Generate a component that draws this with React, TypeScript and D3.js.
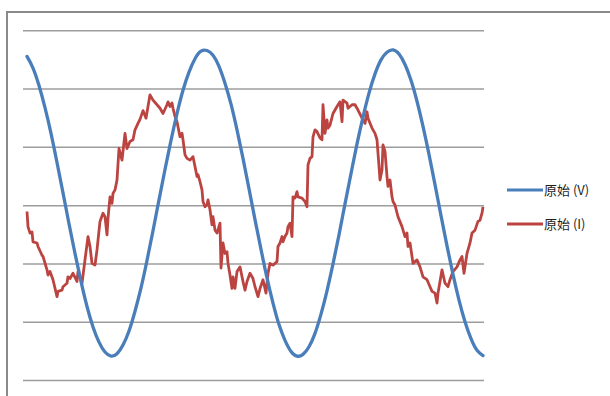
import React from "react";
import * as d3 from "d3";

// sample index (x) and value pairs
const voltageSamples = [
  0, 6, 12, 18, 24, 30, 36, 42, 48, 54, 60, 66, 72, 78, 84, 90, 96, 102, 108,
  114, 120, 126, 132, 138, 144, 150, 156, 162, 168, 174, 180, 186, 192, 198,
  204, 210, 216, 222, 228, 234, 240, 246, 252, 258, 264, 270, 276, 282, 288,
  294, 300, 306, 312, 318, 324, 330, 336, 342, 348, 354, 360, 366, 372, 378,
  384, 390, 396, 402, 408, 414, 420, 426, 432, 438, 444, 450, 456,
];
const voltageValues = [
  256, 236, 206, 168, 124, 74, 22, -31, -82, -130, -173, -208, -234, -251,
  -258, -254, -239, -215, -181, -141, -94, -43, 10, 62, 112, 158, 198, 229,
  252, 265, 266, 258, 239, 210, 174, 130, 81, 29, -24, -75, -124, -167, -204,
  -231, -250, -258, -255, -242, -219, -186, -146, -100, -50, 3, 55, 106, 152,
  193, 226, 250, 263, 267, 260, 242, 215, 179, 136, 88, 36, -17, -69, -118,
  -162, -199, -228, -248, -257,
];

const currentSamples = [
  0, 1, 3, 5, 6, 10, 11, 15, 16, 20, 21, 23, 26, 30, 31, 35, 36, 40, 41, 43,
  46, 50, 51, 55, 58, 61, 63, 65, 68, 70, 73, 76, 78, 80, 81, 83, 85, 86, 88,
  90, 92, 95, 98, 100, 103, 106, 108, 111, 113, 116, 119, 123, 126, 130, 133,
  136, 140, 141, 143, 145, 146, 148, 150, 153, 155, 156, 158, 160, 163, 166,
  168, 170, 171, 173, 175, 176, 178, 180, 181, 183, 185, 186, 188, 190, 193,
  194, 196, 198, 200, 201, 203, 205, 206, 208, 210, 213, 216, 218, 220, 223,
  226, 228, 231, 233, 236, 239, 241, 243, 246, 250, 251, 253, 255, 256, 258,
  260, 261, 263, 265, 266, 268, 270, 271, 275, 278, 280, 281, 283, 285, 286,
  288, 290, 293, 295, 296, 298, 300, 301, 303, 306, 310, 313, 315, 316, 320,
  321, 325, 328, 331, 335, 338, 340, 341, 345, 348, 350, 351, 353, 355, 356,
  358, 360, 361, 363, 365, 366, 368, 371, 375, 378, 380, 381, 383, 385, 386,
  390, 393, 396, 400, 403, 405, 408, 410, 411, 415, 418, 421, 423, 426, 430,
  433, 435, 437, 440, 443, 445, 448, 451, 453, 455, 456,
];
const currentValues = [
  -10, -36, -47, -45, -62, -64, -70, -85, -87, -110, -119, -113, -127, -156,
  -147, -145, -139, -133, -122, -125, -116, -130, -113, -133, -93, -53, -70,
  -99, -102, -76, -27, -13, -19, -50, -22, 15, 4, 21, 27, 44, 98, 78, 124, 98,
  110, 113, 130, 141, 148, 163, 150, 190, 181, 173, 167, 158, 173, 178, 170,
  176, 167, 153, 144, 118, 124, 113, 87, 81, 78, 84, 67, 50, 53, 41, 27, 7,
  -2, 1, 10, -7, -33, -19, -42, -47, -30, -107, -64, -82, -79, -99, -119,
  -142, -122, -142, -113, -105, -130, -145, -130, -116, -125, -139, -156,
  -142, -127, -150, -116, -99, -102, -96, -70, -64, -53, -62, -53, -47, -36,
  -30, -53, 15, 13, 24, 15, 13, 7, -2, 70, 81, 84, 118, 130, 127, 116, 113,
  173, 124, 147, 133, 138, 158, 170, 178, 144, 181, 176, 167, 173, 173, 164,
  150, 141, 161, 150, 133, 124, 113, 90, 44, 61, 104, 93, 50, 33, 44, 15, 7,
  1, -19, -36, -53, -47, -70, -64, -87, -99, -93, -105, -122, -127, -139,
  -147, -150, -167, -150, -110, -133, -139, -127, -113, -105, -93, -87, -116,
  -82, -64, -47, -42, -27, -25, -13, -2,
];

const gridTicks = [-300, -200, -100, 0, 100, 200, 300];
const seriesNames = ["原始 (V)", "原始 (I)"];
const seriesColors = ["#4a7ebb", "#bb4441"];

const WIDTH = 610;
const HEIGHT = 396;

export default function App() {
  const x = d3.scaleLinear().domain([0, 456]).range([27, 483]);
  const y = d3.scaleLinear().domain([-300, 300]).range([380.6, 30.7]);

  const voltage = voltageSamples.map((s, i) => [s, voltageValues[i]] as [number, number]);
  const current = currentSamples.map((s, i) => [s, currentValues[i]] as [number, number]);

  const smoothLine = d3
    .line<[number, number]>()
    .x((d) => x(d[0]))
    .y((d) => y(d[1]))
    .curve(d3.curveNatural);
  const rawLine = d3
    .line<[number, number]>()
    .x((d) => x(d[0]))
    .y((d) => y(d[1]));

  const legendY = [190, 224];

  return (
    <svg
      width={WIDTH}
      height={HEIGHT}
      style={{ position: "absolute", left: 0, top: 0, display: "block", background: "#fff" }}
    >
      {/* outer chart frame, runs off the right and bottom edges */}
      <rect x={7} y={12} width={620} height={400} fill="#fff" stroke="#8a8a8a" strokeWidth={2} />

      {gridTicks.map((t) => (
        <line
          key={t}
          x1={23}
          x2={484}
          y1={y(t)}
          y2={y(t)}
          stroke="#9c9c9c"
          strokeWidth={1.5}
        />
      ))}

      <path d={rawLine(current) || ""} fill="none" stroke={seriesColors[1]} strokeWidth={2.8} strokeLinejoin="round" />
      <path d={smoothLine(voltage) || ""} fill="none" stroke={seriesColors[0]} strokeWidth={3.3} strokeLinecap="round" />

      {seriesNames.map((name, i) => (
        <g key={name} transform={`translate(507,${legendY[i]})`}>
          <line x1={0} x2={36} y1={0} y2={0} stroke={seriesColors[i]} strokeWidth={3} />
          <text
            x={37}
            y={0}
            dy="0.35em"
            fontSize={13}
            fontFamily="'Noto Sans CJK SC', 'Noto Sans', sans-serif"
            fill="#1e1e1e"
          >
            {name}
          </text>
        </g>
      ))}
    </svg>
  );
}
